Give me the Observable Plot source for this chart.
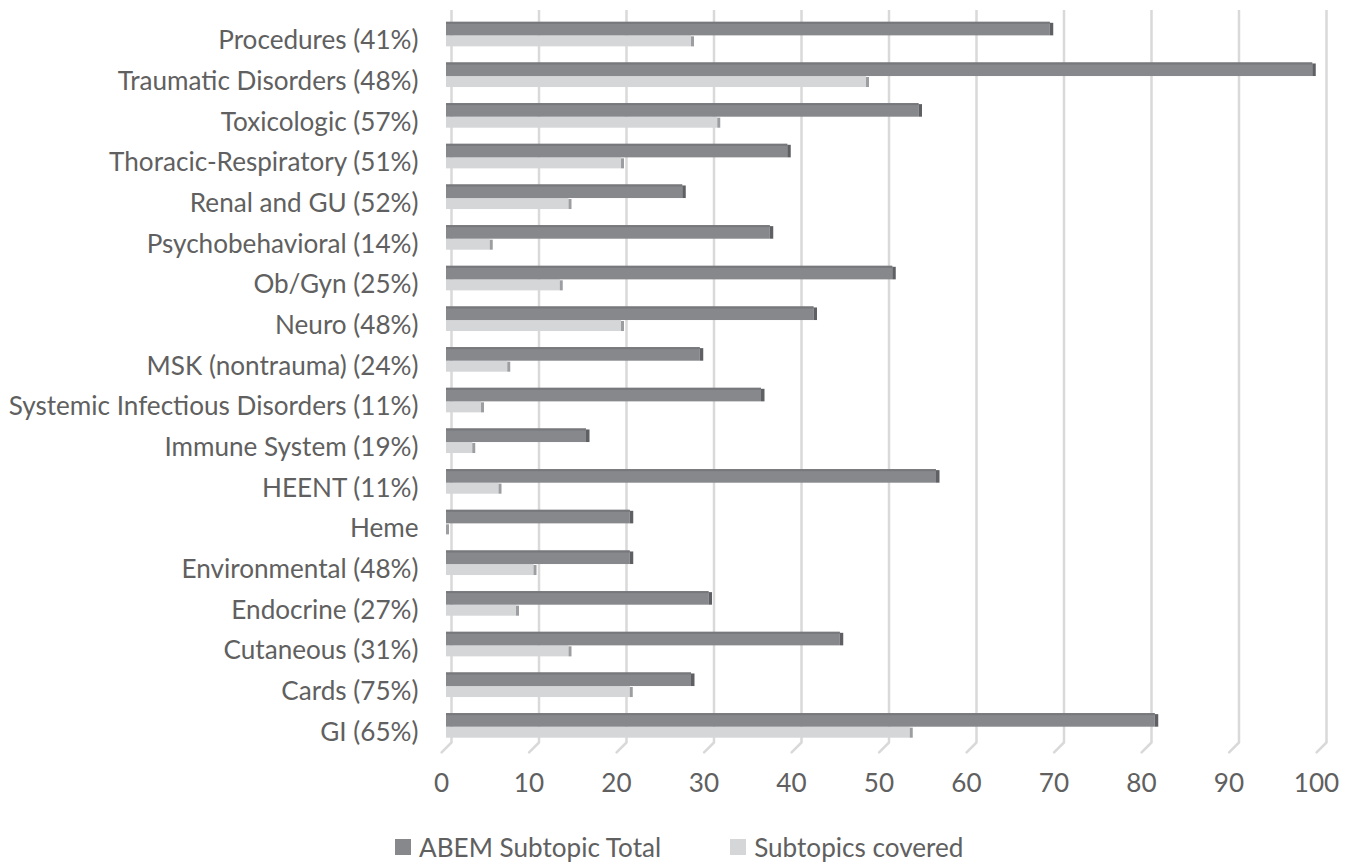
<!DOCTYPE html>
<html>
<head>
<meta charset="utf-8">
<script src="https://cdn.jsdelivr.net/npm/d3@7"></script>
<script src="https://cdn.jsdelivr.net/npm/@observablehq/plot@0.6"></script>
<style>
  html, body { margin: 0; padding: 0; background: #ffffff; }
  #chart { width: 1346px; height: 800px; }
  #legend { display: flex; align-items: center; height: 64px; padding-top: 30px; padding-left: 395px; box-sizing: border-box; color: #606060; }
  .item { display: flex; align-items: center; }
  .sw { width: 16px; height: 16px; margin-right: 8px; }
</style>
</head>
<body>
<div id="chart"></div>
<div id="legend"></div>
<script>
// Categories, top to bottom
const categories = [
  "Procedures (41%)",
  "Traumatic Disorders (48%)",
  "Toxicologic (57%)",
  "Thoracic-Respiratory (51%)",
  "Renal and GU (52%)",
  "Psychobehavioral (14%)",
  "Ob/Gyn (25%)",
  "Neuro (48%)",
  "MSK (nontrauma) (24%)",
  "Systemic Infectious Disorders (11%)",
  "Immune System (19%)",
  "HEENT (11%)",
  "Heme",
  "Environmental (48%)",
  "Endocrine (27%)",
  "Cutaneous (31%)",
  "Cards (75%)",
  "GI (65%)"
];
const abemTotal = [69, 99, 54, 39, 27, 37, 51, 42, 29, 36, 16, 56, 21, 21, 30, 45, 28, 81];
const covered   = [28, 48, 31, 20, 14, 5, 13, 20, 7, 4, 3, 6, 0, 10, 8, 14, 21, 53];
const xTicks = [0, 10, 20, 30, 40, 50, 60, 70, 80, 90, 100];
const seriesNames = ["ABEM Subtopic Total", "Subtopics covered"];

const data = categories.map((c, i) => ({cat: c, total: abemTotal[i], covered: covered[i]}));

const FONT = "Lato, 'Open Sans', sans-serif";
const ctx = document.createElement("canvas").getContext("2d");
ctx.font = "100px Lato";
const fs = 100 * 410 / ctx.measureText("Systemic Infectious Disorders (11%)").width;

const DARK = "#87888c", DARK_TOP = "#77787c", DARK_CAP = "#5f6064";
const LIGHT = "#d5d6d8", LIGHT_CAP = "#9d9ea1";
const GRID = "#d9d9d9", TEXT = "#606060";

const slash = {draw(context, l) { context.moveTo(0, 0); context.lineTo(0, -l); }};

const plot = Plot.plot({
  width: 1346,
  height: 800,
  marginLeft: 446,
  marginRight: 25,
  marginTop: 20,
  marginBottom: 48,
  style: {fontFamily: FONT, fontSize: fs + "px", color: TEXT, background: "#fff"},
  x: {domain: [0, 100], axis: null},
  y: {domain: categories, padding: 0, round: false, axis: null},
  marks: [
    Plot.ruleX(xTicks, {x: d => d, stroke: GRID, strokeWidth: 2.5, dx: 5, insetTop: -10, insetBottom: 10}),
    Plot.vector(xTicks, {x: d => d, frameAnchor: "bottom", dx: 5, dy: -10, length: 14, rotate: 225, anchor: "start", shape: slash, stroke: GRID, strokeWidth: 2.5}),
    Plot.text(xTicks, {x: d => d, text: d => String(d), frameAnchor: "bottom", dy: 31, dx: -5, lineAnchor: "middle", fill: TEXT, fontSize: fs}),
    Plot.axisY({tickSize: 0, tickPadding: 28, fontSize: fs, fill: TEXT, label: null}),
    // covered (light) bars
    Plot.barX(data, {y: "cat", x: "covered", fill: LIGHT, insetTop: 15.3, insetBottom: 14.3}),
    Plot.barX(data, {y: "cat", x1: "covered", x2: "covered", insetRight: -3, fill: LIGHT_CAP, insetTop: 16.3, insetBottom: 14.3}),
    // total (dark) bars
    Plot.barX(data, {y: "cat", x: "total", fill: DARK, insetTop: 1.8, insetBottom: 25.3}),
    Plot.barX(data, {y: "cat", x: "total", fill: DARK_TOP, insetTop: 1.8, insetBottom: 36.8}),
    Plot.barX(data, {y: "cat", x1: "total", x2: "total", insetRight: -3.5, fill: DARK_CAP, insetTop: 2.8, insetBottom: 25.3})
  ]
});
document.getElementById("chart").append(plot);

const legend = document.getElementById("legend");
legend.style.fontFamily = FONT;
legend.style.fontSize = fs + "px";
[DARK, LIGHT].forEach((col, i) => {
  const it = document.createElement("div");
  it.className = "item";
  if (i > 0) it.style.marginLeft = "69px";
  const sw = document.createElement("div");
  sw.className = "sw";
  sw.style.background = col;
  const tx = document.createElement("span");
  tx.textContent = seriesNames[i];
  it.append(sw, tx);
  legend.append(it);
});
</script>
</body>
</html>
